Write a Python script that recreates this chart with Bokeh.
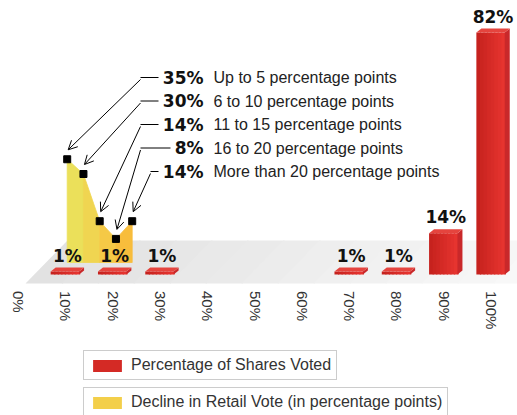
from bokeh.plotting import figure
from bokeh.models import (ColumnDataSource, LinearAxis, FixedTicker, Arrow, OpenHead,
                          Legend, LegendItem, Range1d)
from bokeh.core.properties import value
from bokeh.embed import file_html
from bokeh.resources import INLINE

# ---------------- data ----------------
tick_values = [0, 10, 20, 30, 40, 50, 60, 70, 80, 90, 100]
tick_labels = ["0%", "10%", "20%", "30%", "40%", "50%", "60%", "70%", "80%", "90%", "100%"]

voted_x = [10, 20, 30, 70, 80, 90, 100]
voted_pct = [1, 1, 1, 1, 1, 14, 82]
voted_labels = ["1%", "1%", "1%", "1%", "1%", "14%", "82%"]

decline_cats = ["Up to 5 percentage points", "6 to 10 percentage points",
                "11 to 15 percentage points", "16 to 20 percentage points",
                "More than 20 percentage points"]
decline_pct = [35, 30, 14, 8, 14]
decline_labels = ["35%", "30%", "14%", "8%", "14%"]

legend_red = "Percentage of Shares Voted"
legend_yellow = "Decline in Retail Vote (in percentage points)"

# ---------------- style / layout ----------------
W, H = 517, 415
PX_X = 4.73      # px per x unit
PX_Y = 2.95      # px per y unit
X_START = -18 / PX_X
Y_START = -(H - 274) / PX_Y

BAR_W = 6.0
BAR_OFF = -0.2
DX = 5 / PX_X
DY = 4 / PX_Y
FRONT_FROM = (0xc6, 0x22, 0x1e)
FRONT_TO = (0xe6, 0x34, 0x2f)
FRONT_N = 8
SIDE_COL = "#c9282a"
TOP_COL = "#e5443e"


def mix(c0, c1, t):
    return "#%02x%02x%02x" % tuple(int(round(a + (b - a) * t)) for a, b in zip(c0, c1))


FLOOR_FRONT_Y = -9 / PX_Y
FLOOR_BACK_Y = 34 / PX_Y
FLOOR_LEFT = 7 / PX_X
FLOOR_SLANT = 42 / PX_X
FLOOR_RIGHT = 108
FLOOR_N = 14

Y_X0 = (66.7 - 18) / PX_X
Y_STEP = 16.25 / PX_X
Y_BASE = 12 / PX_Y
YEL_COLS = ["#ebe05a", "#f0d551", "#f5c946", "#f8bd3c"]

LABEL_RX = (203 - 18) / PX_X
ROW_Y0 = (274 - 77) / PX_Y
ROW_STEP = 23.5 / PX_Y
LEAD_LEN_PX = [18, 18, 18, 30, 8]

AXIS_Y = -5.6

BOLD = value("DejaVu Sans")
REG = value("Liberation Sans")

p = figure(width=W, height=H,
           x_range=Range1d(X_START, X_START + W / PX_X),
           y_range=Range1d(Y_START, Y_START + H / PX_Y),
           output_backend="svg", toolbar_location=None,
           x_axis_location=None, y_axis_location=None,
           min_border=0, outline_line_color=None)
p.grid.grid_line_color = None

# ---------------- floor ----------------
fw = (FLOOR_RIGHT - FLOOR_LEFT) / FLOOR_N
for i in range(FLOOR_N):
    a = FLOOR_LEFT + i * fw
    b = a + fw + 0.3
    col = mix((0xe2, 0xe2, 0xe2), (0xf8, 0xf8, 0xf8), i / (FLOOR_N - 1))
    p.patch([a, a + FLOOR_SLANT, b + FLOOR_SLANT, b],
            [FLOOR_FRONT_Y, FLOOR_BACK_Y, FLOOR_BACK_Y, FLOOR_FRONT_Y],
            fill_color=col, line_color=None)

# ---------------- yellow area ----------------
yx = [Y_X0 + i * Y_STEP for i in range(len(decline_pct))]
yy = [Y_BASE + v for v in decline_pct]
for i in range(len(decline_pct) - 1):
    p.patch([yx[i], yx[i], yx[i + 1], yx[i + 1]],
            [Y_BASE, yy[i], yy[i + 1], Y_BASE],
            fill_color=YEL_COLS[i], line_color=YEL_COLS[i], line_width=0.8)

# ---------------- red 3D bars ----------------
left = [x + BAR_OFF - BAR_W / 2 for x in voted_x]
right = [x + BAR_OFF + BAR_W / 2 for x in voted_x]
sw = BAR_W / FRONT_N
for k in range(FRONT_N):
    c = mix(FRONT_FROM, FRONT_TO, k / (FRONT_N - 1))
    p.quad(left=[l + k * sw for l in left], right=[l + (k + 1) * sw + 0.25 for l in left],
           bottom=[0] * len(voted_x), top=voted_pct, fill_color=c, line_color=None)
p.patches(xs=[[r, r + DX, r + DX, r] for r in right],
          ys=[[0, DY, v + DY, v] for v in voted_pct],
          fill_color=SIDE_COL, line_color=None)
p.patches(xs=[[l, l + DX, r + DX, r] for l, r in zip(left, right)],
          ys=[[v, v + DY, v + DY, v] for v in voted_pct],
          fill_color=TOP_COL, line_color=None)

bar_src = ColumnDataSource(dict(x=[x + BAR_OFF + DX / 2 for x in voted_x],
                                y=[v + DY for v in voted_pct], t=voted_labels))
p.text(x="x", y="y", text="t", source=bar_src, text_align="center", text_baseline="bottom",
       y_offset=-2, text_font=BOLD, text_font_style="bold", text_font_size="17px",
       text_color="#111111")

# ---------------- points, leaders, annotations ----------------
p.scatter(x=yx, y=yy, marker="square", size=7, color="#000000")

row_y = [ROW_Y0 - i * ROW_STEP for i in range(len(decline_pct))]
ann_src = ColumnDataSource(dict(x=[LABEL_RX] * len(row_y), y=row_y,
                                t=decline_labels, c=decline_cats))
p.text(x="x", y="y", text="t", source=ann_src, text_align="right", text_baseline="middle",
       text_font=BOLD, text_font_style="bold", text_font_size="17px", text_color="#111111")
p.text(x="x", y="y", text="c", source=ann_src, text_align="left", text_baseline="middle",
       x_offset=10, text_font=REG, text_font_size="16px", text_color="#222222")

for i, (lab, ry) in enumerate(zip(decline_labels, row_y)):
    w_px = 40 if len(lab) == 3 else 28
    end_x = LABEL_RX - (w_px + 5) / PX_X
    corner_x = end_x - LEAD_LEN_PX[i] / PX_X
    p.line([end_x, corner_x], [ry, ry], line_color="#000000", line_width=1)
    p.add_layout(Arrow(end=OpenHead(size=9, line_width=1, line_color="#000000"),
                       x_start=corner_x, y_start=ry - 2 / PX_Y,
                       x_end=yx[i] + 1 / PX_X, y_end=yy[i] + 9.5 / PX_Y,
                       line_color="#000000", line_width=1))

# ---------------- axis ----------------
xaxis = LinearAxis(fixed_location=AXIS_Y, ticker=FixedTicker(ticks=tick_values),
                   major_label_overrides={v: l for v, l in zip(tick_values, tick_labels)},
                   major_label_orientation="vertical",
                   axis_line_color=None, major_tick_line_color=None, minor_tick_line_color=None,
                   major_tick_out=0, major_tick_in=0, major_label_standoff=0,
                   major_label_text_font="Liberation Sans", major_label_text_font_size="15px",
                   major_label_text_color="#333333")
p.add_layout(xaxis, "below")

# ---------------- legends (proxy glyphs placed outside the visible range) ----------------
far = X_START + W / PX_X + 50
r_red = p.quad(left=[far], right=[far + 1], top=[1], bottom=[0],
               fill_color="#d42a25", line_color=None)
r_yel = p.quad(left=[far], right=[far + 1], top=[1], bottom=[0],
               fill_color="#f3cf4a", line_color=None)

for item_label, rend, loc in [(legend_red, r_red, (83, 35)), (legend_yellow, r_yel, (83, -2))]:
    lg = Legend(items=[LegendItem(label=item_label, renderers=[rend])], location=loc,
                padding=5, spacing=0, margin=0, glyph_width=36, glyph_height=15,
                label_standoff=6, label_height=16, label_text_font="Liberation Sans",
                label_text_font_size="16px", label_text_color="#333333",
                border_line_color="#999999", border_line_width=1,
                background_fill_color="#ffffff", background_fill_alpha=1.0)
    p.add_layout(lg)

open("out.html", "w").write(file_html(p, INLINE))
